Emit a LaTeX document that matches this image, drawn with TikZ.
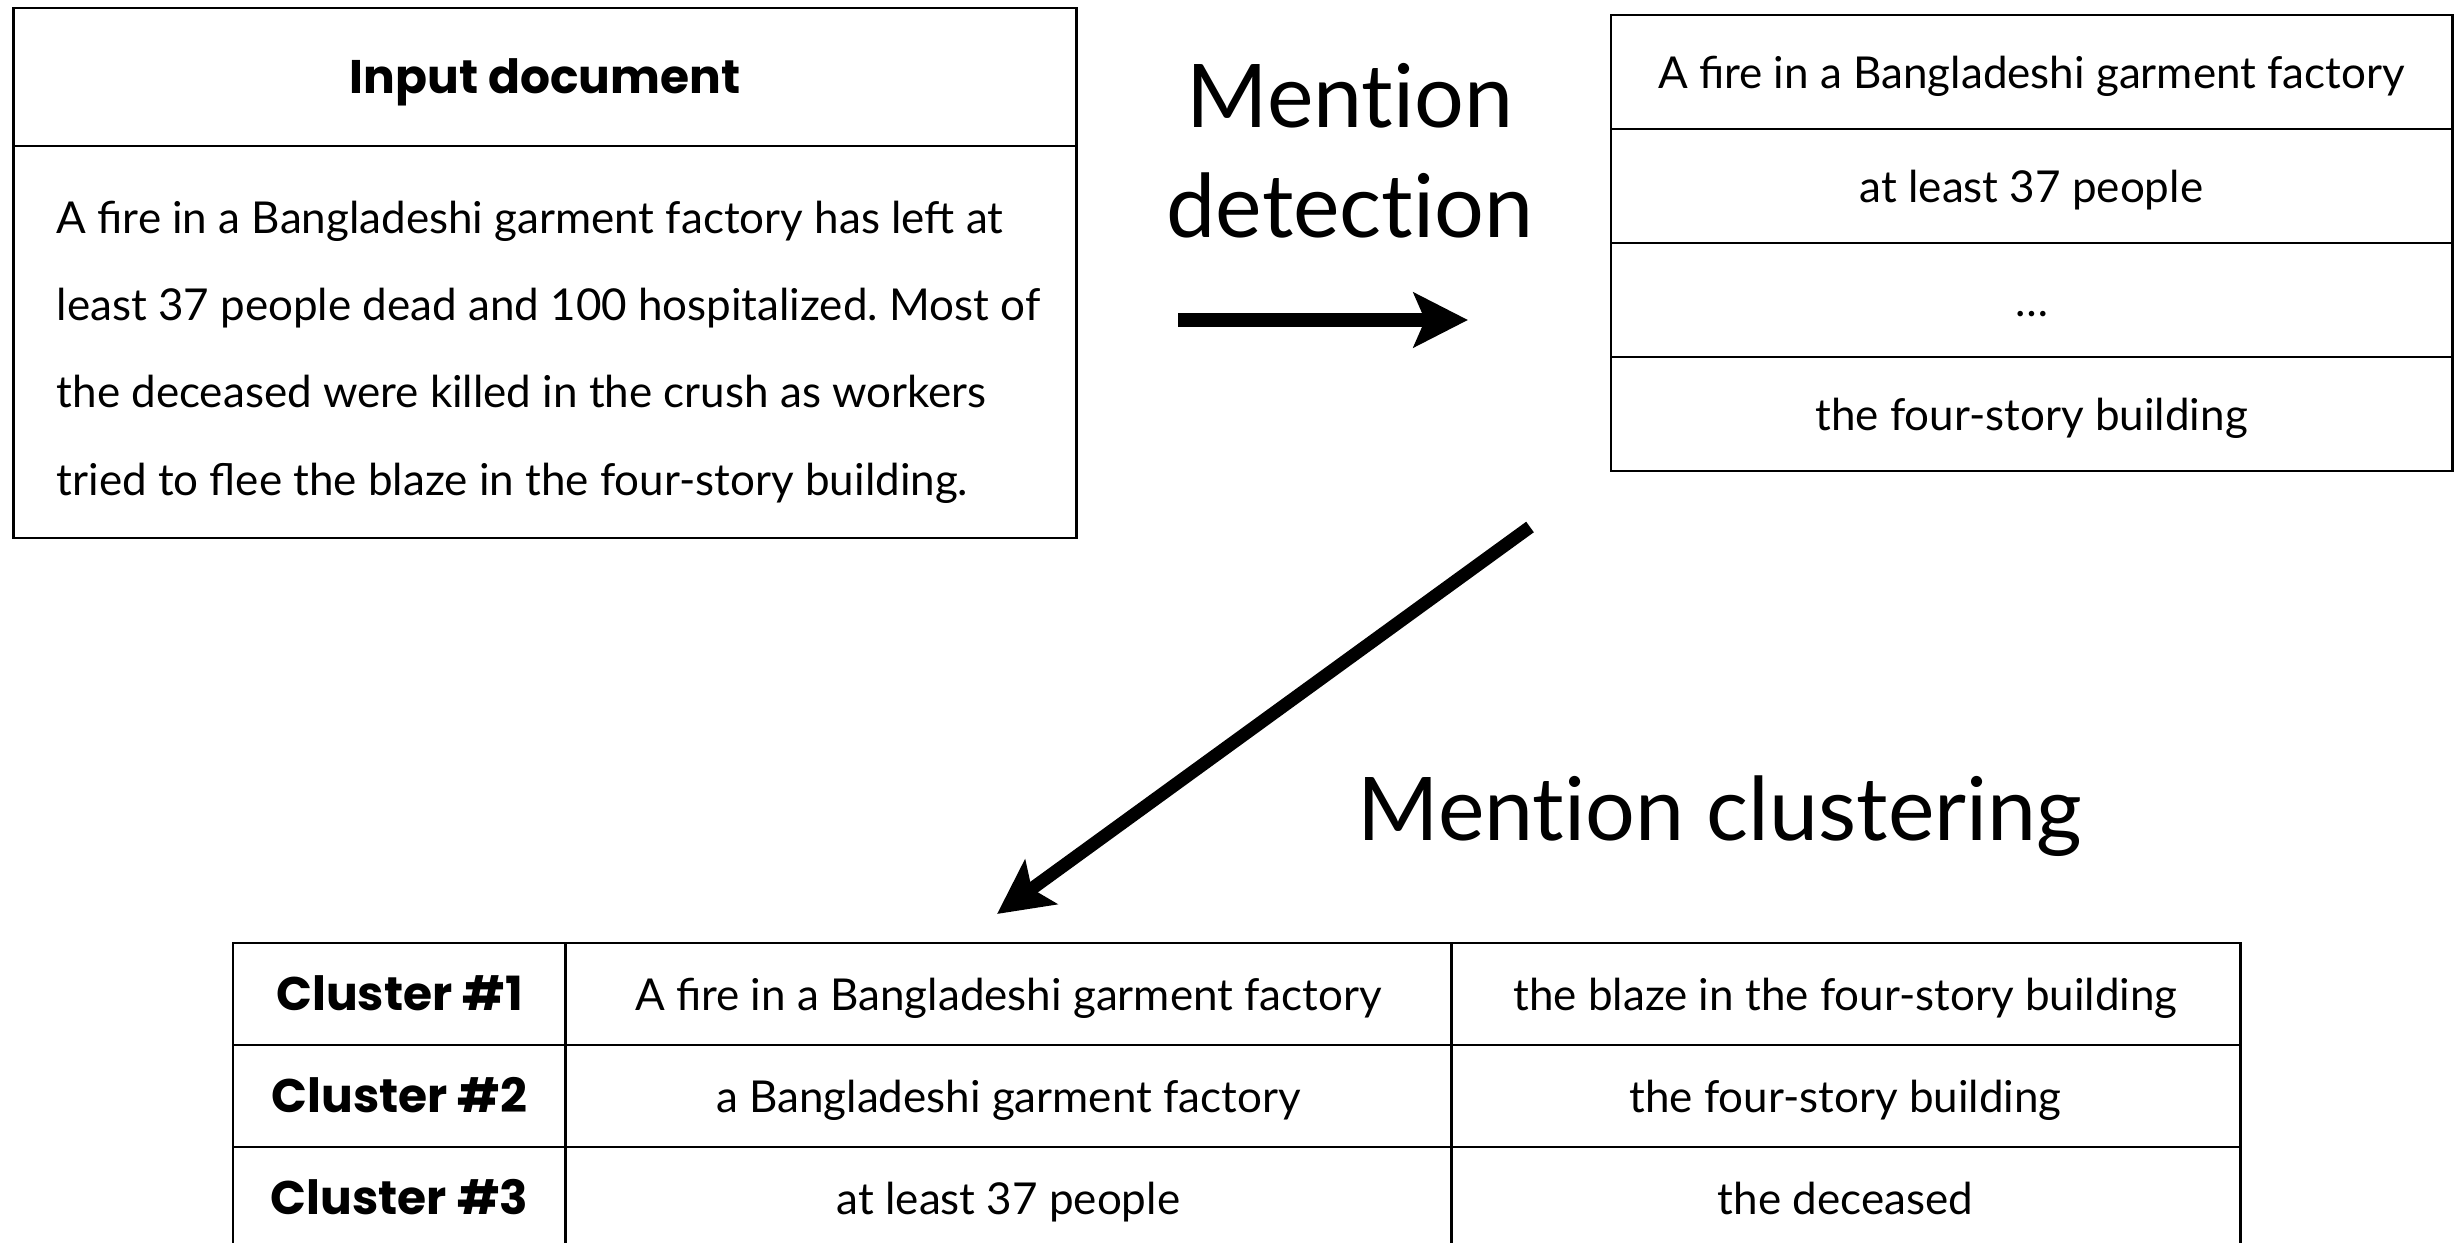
\documentclass[tikz,border=0pt]{standalone}
\usepackage{fontspec}
\setmainfont{Lato}
\newfontfamily\stepfont{Lato}[Ligatures=NoCommon]
\newfontfamily\labelfont{Poppins}
\usetikzlibrary{arrows.meta}
\frenchspacing
\begin{document}
\begin{tikzpicture}[x=0.01cm,y=-0.01cm,
  frame/.style={draw, line width=0.72pt, inner sep=0pt, anchor=center,
    text height=12pt, text depth=2.4pt},
  body/.style={font=\fontsize{12.5pt}{15pt}\selectfont},
  heading/.style={font=\labelfont\fontsize{13.4pt}{16pt}\selectfont\bfseries},
  big/.style={font=\stepfont\fontsize{25pt}{30pt}\selectfont, inner sep=0pt},
  flow/.style={line width=3.7pt,
    -{Stealth[length=15.4pt,width=15.4pt,inset=3.2pt]}}
]
\useasboundingbox (0,0) rectangle (2460,1243);

% input document
\node[frame, heading, minimum width=10.62cm, minimum height=1.38cm] (inhead) at (545,77) {Input document};
\node[frame, minimum width=10.62cm, minimum height=3.92cm] (inbody) at (545,342) {};
\node[body, anchor=base west, inner sep=0pt] (l1) at (56,234) {A fire in a Bangladeshi garment factory has left at};
\node[body, anchor=base west, inner sep=0pt] (l2) at (56,321) {least 37 people dead and 100 hospitalized. Most of};
\node[body, anchor=base west, inner sep=0pt] (l3) at (56,408) {the deceased were killed in the crush as workers};
\node[body, anchor=base west, inner sep=0pt] (l4) at (56,495) {tried to flee the blaze in the four-story building.};

% detected mentions
\node[frame, body, minimum width=8.41cm, minimum height=1.14cm] (m1) at (2031.5,72) {A fire in a Bangladeshi garment factory};
\node[frame, body, minimum width=8.41cm, minimum height=1.14cm] (m2) at (2031.5,186) {at least 37 people};
\node[frame, body, minimum width=8.41cm, minimum height=1.14cm] (m3) at (2031.5,300) {…};
\node[frame, body, minimum width=8.41cm, minimum height=1.14cm] (m4) at (2031.5,414) {the four-story building};

% step labels
\node[big, anchor=base] (det1) at (1350,128) {Mention};
\node[big, anchor=base] (det2) at (1350,238) {detection};
\node[big, anchor=base] (clus) at (1720,840) {Mention clustering};

% arrows
\coordinate (a1s) at (1178,320);
\coordinate (a1e) at (1468,320);
\draw[flow] (a1s) -- (a1e);
\coordinate (a2s) at (1530,527);
\coordinate (a2e) at (997,914);
\draw[flow] (a2s) -- (a2e);

% clusters
\node[frame, heading, minimum width=3.33cm, minimum height=1.02cm] (c1) at (399.5,994) {Cluster \#1};
\node[frame, body, minimum width=8.85cm, minimum height=1.02cm] (c1a) at (1008.5,994) {A fire in a Bangladeshi garment factory};
\node[frame, body, minimum width=7.89cm, minimum height=1.02cm] (c1b) at (1845.5,994) {the blaze in the four-story building};
\node[frame, heading, minimum width=3.33cm, minimum height=1.02cm] (c2) at (399.5,1096) {Cluster \#2};
\node[frame, body, minimum width=8.85cm, minimum height=1.02cm] (c2a) at (1008.5,1096) {a Bangladeshi garment factory};
\node[frame, body, minimum width=7.89cm, minimum height=1.02cm] (c2b) at (1845.5,1096) {the four-story building};
\node[frame, heading, minimum width=3.33cm, minimum height=1.02cm] (c3) at (399.5,1198) {Cluster \#3};
\node[frame, body, minimum width=8.85cm, minimum height=1.02cm] (c3a) at (1008.5,1198) {at least 37 people};
\node[frame, body, minimum width=7.89cm, minimum height=1.02cm] (c3b) at (1845.5,1198) {the deceased};
\end{tikzpicture}
\end{document}
